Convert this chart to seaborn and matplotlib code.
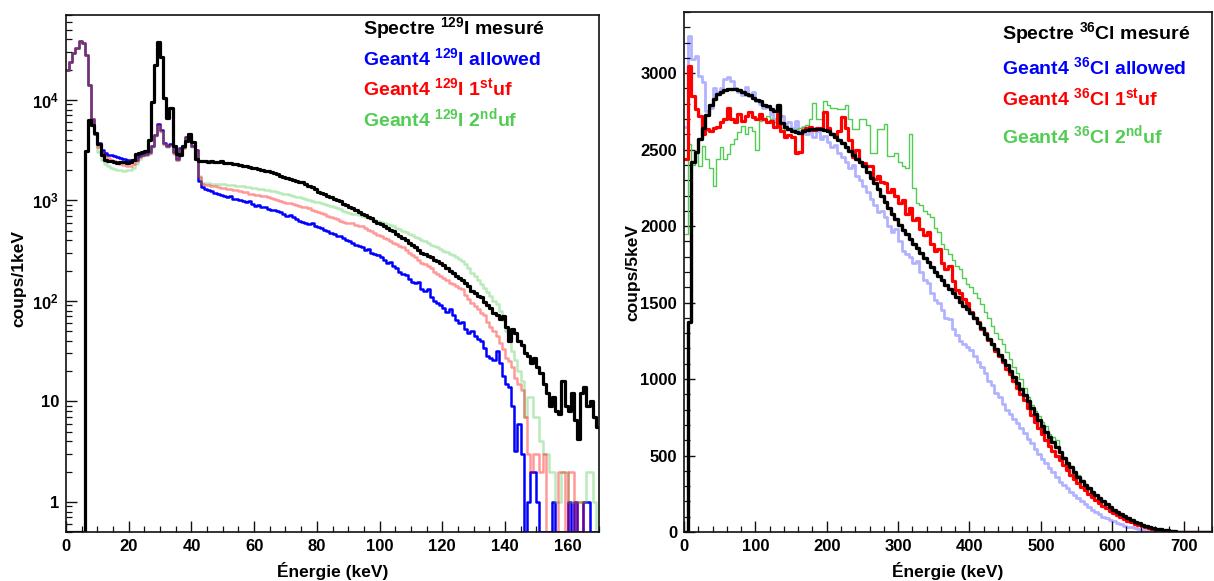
import numpy as np
import pandas as pd
import matplotlib
matplotlib.use("Agg")
import matplotlib.pyplot as plt
import seaborn as sns
from matplotlib.ticker import MultipleLocator, FixedLocator, FixedFormatter, LogLocator, NullFormatter

# ---------------- data : left panel (129I, 1 keV bins, 0-170 keV) ----------------
i129_edges = np.arange(0, 171, 1)
i129_measured = [
    0, 0, 0, 0, 0, 0, 3100, 6300, 5600, 4700,
    3600, 2800, 2550, 2480, 2450, 2420, 2380, 2400, 2420, 2380,
    2420, 2520, 2900, 2950, 3000, 3100, 4000, 9500, 22000, 38000,
    27000, 10500, 6600, 8400, 3500, 2900, 2800, 3500, 3900, 4600,
    3800, 2600, 2450, 2450, 2480, 2430, 2460, 2420, 2400, 2440,
    2380, 2360, 2350, 2280, 2300, 2230, 2210, 2180, 2150, 2120,
    2080, 2050, 2010, 1980, 1950, 1900, 1870, 1820, 1760, 1720,
    1680, 1650, 1600, 1560, 1520, 1530, 1450, 1400, 1370, 1300,
    1220, 1190, 1150, 1110, 1090, 1040, 1000, 980, 920, 890,
    860, 830, 800, 770, 740, 710, 680, 660, 630, 600,
    580, 550, 530, 510, 490, 460, 440, 420, 400, 380,
    360, 340, 320, 300, 295, 280, 270, 255, 250, 240,
    225, 210, 200, 190, 175, 170, 160, 150, 140, 125,
    120, 112, 110, 98, 90, 85, 75, 72, 66, 70,
    55, 40, 52, 48, 40, 36, 30, 28, 24, 27,
    22, 19, 15, 12, 9, 11, 8, 7.5, 16, 9,
    8, 12, 6.5, 4.2, 12, 14, 9, 10, 7, 5.5]
i129_allowed = [
    20000, 24000, 29000, 33000, 38500, 37000, 28000, 14000, 6500, 4600,
    3700, 3200, 2950, 2850, 2800, 2750, 2700, 2650, 2600, 2550,
    2500, 2500, 2550, 2750, 2850, 2900, 3000, 3500, 4500, 5700,
    5000, 3700, 3500, 3600, 3000, 2600, 3300, 3400, 4300, 4600,
    3500, 3200, 1550, 1350, 1300, 1260, 1230, 1190, 1160, 1120,
    1100, 1080, 1100, 1040, 1030, 1000, 990, 960, 980, 920,
    880, 900, 850, 860, 820, 800, 810, 780, 770, 740,
    700, 710, 680, 650, 630, 615, 600, 580, 600, 550,
    540, 530, 505, 490, 470, 460, 440, 445, 420, 400,
    390, 375, 360, 355, 345, 320, 325, 300, 290, 285,
    275, 255, 240, 245, 220, 210, 195, 185, 180, 165,
    155, 150, 155, 130, 125, 130, 110, 100, 95, 90,
    85, 78, 82, 72, 65, 60, 62, 52, 48, 50,
    45, 42, 40, 34, 28, 27, 26, 32, 24, 18,
    15, 14, 9, 3.2, 6, 3, 0, 1, 2, 2,
    1, 0, 0, 0, 0, 1, 0, 0, 0, 0,
    1, 0, 1, 0, 0, 1, 1, 0, 0, 0]
i129_first_uf = [
    20000, 24000, 29000, 33000, 38500, 37000, 28000, 14000, 6500, 4600,
    3400, 3000, 2750, 2650, 2550, 2450, 2400, 2320, 2260, 2220,
    2220, 2300, 2450, 2680, 2800, 2850, 2950, 3450, 4450, 5600,
    4900, 3650, 3450, 3550, 2950, 2550, 3250, 3350, 4250, 4550,
    3450, 3150, 1700, 1450, 1430, 1410, 1400, 1380, 1360, 1340,
    1320, 1300, 1310, 1270, 1260, 1230, 1200, 1210, 1170, 1160,
    1130, 1120, 1100, 1110, 1070, 1050, 1040, 1010, 990, 970,
    950, 940, 910, 900, 880, 860, 850, 830, 800, 790,
    770, 755, 730, 700, 690, 670, 650, 630, 610, 590,
    600, 590, 575, 560, 550, 530, 510, 490, 470, 455,
    440, 425, 410, 395, 380, 370, 355, 345, 320, 300,
    285, 270, 255, 240, 230, 220, 210, 195, 185, 178,
    170, 160, 152, 148, 140, 135, 130, 115, 105, 95,
    88, 82, 76, 72, 62, 55, 50, 45, 38, 33,
    27, 25, 22, 17, 15, 13, 7, 3, 2, 3,
    3, 2, 3, 0, 0, 0, 0, 2, 2, 0,
    2, 2, 0, 1, 1, 0, 0, 0, 0, 0]
i129_second_uf = [
    20000, 24000, 29000, 33000, 38500, 37000, 28000, 14000, 6500, 4600,
    3000, 2500, 2300, 2200, 2100, 2050, 2000, 2000, 1980, 2000,
    2000, 2100, 2300, 2600, 2750, 2800, 2900, 3400, 4400, 5500,
    4800, 3600, 3400, 3500, 2900, 2500, 3200, 3300, 4200, 4500,
    3400, 3100, 1750, 1500, 1490, 1480, 1470, 1470, 1450, 1460,
    1440, 1430, 1420, 1420, 1400, 1390, 1380, 1370, 1350, 1340,
    1320, 1310, 1290, 1280, 1260, 1250, 1230, 1210, 1190, 1170,
    1150, 1130, 1110, 1090, 1070, 1050, 1030, 1010, 990, 970,
    955, 940, 920, 900, 880, 860, 840, 815, 790, 770,
    755, 740, 725, 710, 700, 680, 665, 650, 635, 625,
    610, 595, 580, 565, 550, 530, 515, 500, 480, 465,
    450, 435, 420, 405, 390, 375, 360, 350, 340, 325,
    315, 305, 295, 285, 275, 262, 250, 230, 210, 190,
    175, 160, 148, 135, 122, 112, 100, 92, 80, 65,
    50, 40, 32, 26, 20, 16, 7, 11, 11, 7,
    7, 4, 3, 3, 2, 2, 1, 1, 2, 2,
    1, 1, 1, 1, 1, 1, 2, 2, 1, 0]

i129_ticks = [1, 10, 100, 1000, 10000]
i129_ticklabels = ["1", "10", "10$^{2}$", "10$^{3}$", "10$^{4}$"]

# ---------------- data : right panel (36Cl, 5 keV bins, 0-740 keV) ----------------
cl36_edges = np.arange(0, 745, 5)
cl36_measured = [
    0, 1370, 2417, 2482, 2570, 2640, 2724, 2790, 2833, 2866,
    2880, 2888, 2895, 2899, 2897, 2888, 2876, 2866, 2855, 2840,
    2826, 2815, 2795, 2785, 2765, 2750, 2790, 2672, 2650, 2636,
    2625, 2614, 2612, 2620, 2630, 2636, 2636, 2634, 2632, 2630,
    2625, 2600, 2585, 2565, 2545, 2520, 2490, 2465, 2440, 2418,
    2395, 2355, 2318, 2280, 2240, 2200, 2160, 2120, 2082, 2045,
    2010, 1978, 1946, 1915, 1884, 1854, 1824, 1794, 1764, 1733,
    1702, 1673, 1645, 1617, 1590, 1562, 1535, 1507, 1480, 1455,
    1430, 1397, 1365, 1332, 1298, 1265, 1230, 1195, 1160, 1125,
    1090, 1052, 1013, 974, 935, 895, 855, 814, 772, 731,
    690, 655, 620, 587, 553, 520, 487, 454, 422, 390,
    360, 335, 310, 286, 263, 240, 220, 200, 181, 163,
    145, 130, 116, 102, 90, 78, 67, 57, 48, 41,
    35, 28, 22, 17, 13, 10, 7, 5, 3, 2,
    1, 0, 0, 0, 0, 0, 0, 0]
cl36_allowed = [
    2650, 3240, 3090, 3110, 2980, 2940, 2750, 2770, 2900, 2880,
    2900, 2960, 2975, 2950, 2900, 2880, 2860, 2910, 2850, 2880,
    2820, 2800, 2770, 2780, 2730, 2700, 2680, 2720, 2650, 2680,
    2640, 2690, 2620, 2650, 2600, 2630, 2580, 2620, 2570, 2590,
    2550, 2520, 2530, 2480, 2450, 2420, 2380, 2400, 2330, 2300,
    2260, 2220, 2180, 2140, 2090, 2100, 2060, 2000, 1960, 1980,
    1900, 1840, 1820, 1800, 1760, 1770, 1700, 1650, 1630, 1560,
    1520, 1500, 1450, 1400, 1390, 1330, 1290, 1250, 1230, 1210,
    1190, 1150, 1110, 1080, 1040, 990, 960, 910, 880, 840,
    800, 770, 740, 710, 680, 645, 610, 580, 545, 510,
    480, 450, 420, 395, 360, 330, 305, 285, 260, 240,
    220, 200, 180, 165, 145, 130, 115, 100, 90, 80,
    70, 60, 50, 42, 35, 30, 24, 19, 15, 11,
    8, 6, 4, 3, 2, 1, 0, 0, 0, 0,
    0, 0, 0, 0, 0, 0, 0, 0]
cl36_first_uf = [
    2440, 3050, 2850, 2765, 2720, 2600, 2636, 2620, 2640, 2650,
    2680, 2700, 2775, 2700, 2680, 2730, 2690, 2720, 2745, 2715,
    2700, 2735, 2700, 2680, 2690, 2650, 2730, 2620, 2585, 2595,
    2580, 2480, 2485, 2630, 2640, 2645, 2630, 2640, 2640, 2745,
    2640, 2600, 2585, 2625, 2715, 2640, 2560, 2450, 2500, 2420,
    2410, 2390, 2395, 2310, 2330, 2290, 2280, 2220, 2240, 2200,
    2150, 2170, 2080, 2120, 2040, 2050, 1980, 1940, 1960, 1880,
    1840, 1850, 1760, 1720, 1740, 1640, 1585, 1560, 1525, 1500,
    1440, 1400, 1375, 1330, 1300, 1255, 1230, 1185, 1150, 1110,
    1065, 1030, 985, 940, 905, 860, 810, 765, 720, 680,
    640, 600, 565, 532, 500, 468, 436, 405, 375, 348,
    320, 295, 272, 250, 229, 208, 189, 171, 154, 138,
    123, 109, 96, 84, 73, 63, 54, 46, 38, 31,
    25, 20, 15, 11, 8, 6, 4, 3, 2, 2,
    1, 1, 0, 0, 0, 0, 0, 0]
cl36_second_uf = [
    1950, 2540, 2400, 2480, 2395, 2525, 2440, 2380, 2262, 2437,
    2520, 2440, 2470, 2540, 2570, 2614, 2658, 2600, 2650, 2620,
    2500, 2690, 2700, 2720, 2700, 2680, 2650, 2640, 2630, 2633,
    2630, 2633, 2640, 2650, 2660, 2700, 2808, 2700, 2700, 2820,
    2790, 2770, 2770, 2765, 2765, 2790, 2700, 2633, 2633, 2700,
    2700, 2660, 2481, 2481, 2633, 2633, 2666, 2460, 2460, 2480,
    2420, 2390, 2380, 2600, 2250, 2150, 2140, 2100, 2080, 2060,
    1990, 1960, 1880, 1850, 1820, 1780, 1740, 1720, 1660, 1620,
    1600, 1560, 1530, 1490, 1440, 1400, 1350, 1300, 1265, 1230,
    1180, 1130, 1080, 1040, 1000, 940, 880, 830, 790, 760,
    720, 690, 640, 620, 600, 520, 490, 460, 430, 400,
    370, 340, 312, 286, 262, 242, 221, 200, 182, 163,
    146, 130, 115, 101, 88, 76, 64, 54, 45, 37,
    30, 23, 17, 12, 8, 5, 3, 2, 1, 0,
    0, 0, 0, 0, 0, 0, 0, 0]

# ---------------- style ----------------
sns.set_theme(style="white")
plt.rcParams['font.family'] = ['Liberation Sans', 'DejaVu Sans']
plt.rcParams['font.weight'] = 'bold'
plt.rcParams['text.color'] = 'black'
plt.rcParams['axes.labelcolor'] = 'black'
plt.rcParams['mathtext.fontset'] = 'custom'
plt.rcParams['mathtext.rm'] = 'Liberation Sans:bold'
plt.rcParams['mathtext.bf'] = 'Liberation Sans:bold'
plt.rcParams['mathtext.it'] = 'Liberation Sans:bold'
plt.rcParams['mathtext.sf'] = 'Liberation Sans:bold'

BLUE = "#0000ff"
RED = "#ff0000"
GREEN = "#52cc52"


def draw_hist(ax, edges, values, floor=None, **kw):
    edges = np.asarray(edges, dtype=float)
    centers = (edges[:-1] + edges[1:]) / 2.0
    w = np.asarray(values, dtype=float)
    if floor is not None:
        w = np.maximum(w, floor)
    df = pd.DataFrame({"energy": centers, "counts": w})
    sns.histplot(data=df, x="energy", weights="counts", bins=list(edges),
                 element="step", fill=False, ax=ax, **kw)


def style_axes(ax):
    for s in ax.spines.values():
        s.set_linewidth(1.2)
        s.set_color("#111111")
    ax.tick_params(which="both", direction="in", bottom=True, left=True,
                   top=False, right=False, color="#111111", labelcolor="black")
    ax.tick_params(which="major", length=8, width=1.0, labelsize=12, pad=5)
    ax.tick_params(which="minor", length=4, width=0.9)
    ax.set_xlabel("Énergie (keV)", fontsize=12.5, fontweight="bold", color="black")


fig = plt.figure(figsize=(12.14, 5.81), dpi=100)
ax1 = fig.add_axes([0.0544, 0.0843, 0.4390, 0.8899])
ax2 = fig.add_axes([0.5634, 0.0843, 0.4350, 0.8950])

# ---- left panel ----
ymin_l = 0.5
draw_hist(ax1, i129_edges, i129_allowed, floor=ymin_l, color=BLUE, linewidth=1.8)
draw_hist(ax1, i129_edges, i129_second_uf, floor=ymin_l, color=GREEN, linewidth=1.8, alpha=0.4)
draw_hist(ax1, i129_edges, i129_first_uf, floor=ymin_l, color=RED, linewidth=1.8, alpha=0.4)
draw_hist(ax1, i129_edges, i129_measured, floor=ymin_l, color="black", linewidth=2.3)
ax1.set_yscale("log")
ax1.set_xlim(0, 170)
ax1.set_ylim(ymin_l, 70000)
ax1.xaxis.set_major_locator(MultipleLocator(20))
ax1.xaxis.set_minor_locator(MultipleLocator(5))
ax1.yaxis.set_major_locator(FixedLocator(i129_ticks))
ax1.yaxis.set_major_formatter(FixedFormatter(i129_ticklabels))
ax1.yaxis.set_minor_locator(LogLocator(base=10, subs=np.arange(2, 10), numticks=50))
ax1.yaxis.set_minor_formatter(NullFormatter())
style_axes(ax1)
ax1.set_ylabel("coups/1keV", fontsize=12.5, fontweight="bold", color="black")
ax1.yaxis.set_label_coords(-0.075, 0.49)
ax1.xaxis.set_label_coords(0.5, -0.058)

leg_l = [("Spectre $^{129}$I mesuré", "black"),
         ("Geant4 $^{129}$I allowed", BLUE),
         ("Geant4 $^{129}$I 1$^{st}$uf", RED),
         ("Geant4 $^{129}$I 2$^{nd}$uf", GREEN)]
for (txt, c), yy in zip(leg_l, [0.975, 0.917, 0.859, 0.800]):
    ax1.text(0.557, yy, txt, color=c, fontsize=14, fontweight="bold",
             transform=ax1.transAxes, va="center", ha="left")

# ---- right panel ----
draw_hist(ax2, cl36_edges, cl36_allowed, color=BLUE, linewidth=2.0, alpha=0.3)
draw_hist(ax2, cl36_edges, cl36_second_uf, color=GREEN, linewidth=1.0)
draw_hist(ax2, cl36_edges, cl36_first_uf, color=RED, linewidth=2.3)
draw_hist(ax2, cl36_edges, cl36_measured, color="black", linewidth=2.4)
ax2.set_xlim(0, 740)
ax2.set_ylim(0, 3400)
ax2.xaxis.set_major_locator(MultipleLocator(100))
ax2.xaxis.set_minor_locator(MultipleLocator(20))
ax2.yaxis.set_major_locator(MultipleLocator(500))
ax2.yaxis.set_minor_locator(MultipleLocator(100))
style_axes(ax2)
ax2.set_ylabel("coups/5keV", fontsize=12.5, fontweight="bold", color="black")
ax2.yaxis.set_label_coords(-0.083, 0.5)
ax2.xaxis.set_label_coords(0.5, -0.058)

leg_r = [("Spectre $^{36}$Cl mesuré", "black"),
         ("Geant4 $^{36}$Cl allowed", BLUE),
         ("Geant4 $^{36}$Cl 1$^{st}$uf", RED),
         ("Geant4 $^{36}$Cl 2$^{nd}$uf", GREEN)]
for (txt, c), yy in zip(leg_r, [0.96, 0.894, 0.835, 0.764]):
    ax2.text(0.602, yy, txt, color=c, fontsize=14, fontweight="bold",
             transform=ax2.transAxes, va="center", ha="left")

fig.savefig("out.png", dpi=100, facecolor="white")
